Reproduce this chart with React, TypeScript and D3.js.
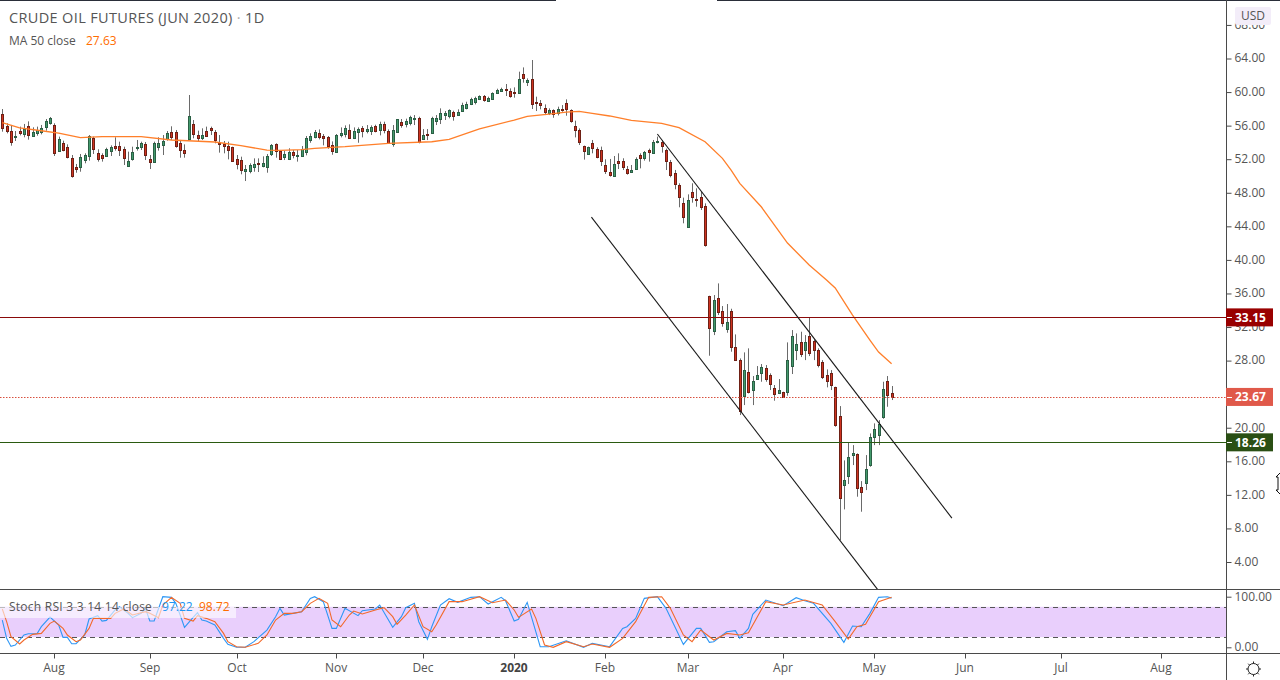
import { useEffect, useRef } from 'react'
import * as d3 from 'd3'

// daily candles, Jun 2020 crude contract
const opens = [
  57.39,55.96,55.36,54.69,55.36,55.00,55.92,54.80,55.08,55.20,
  55.88,56.31,56.04,52.94,53.93,53.41,52.10,51.03,51.03,51.94,
  52.42,54.53,52.70,52.46,52.42,52.94,53.57,53.53,53.18,51.23,
  52.06,53.37,53.49,53.77,51.98,51.71,53.49,53.73,54.37,55.24,
  55.24,53.89,53.06,54.45,56.16,54.84,54.57,55.36,55.68,55.20,
  53.93,53.85,53.57,53.41,51.98,51.87,50.63,50.63,51.07,51.55,
  51.23,51.11,52.66,53.77,52.94,52.30,52.06,52.82,52.42,52.38,
  52.89,54.32,54.68,55.08,54.76,54.60,53.65,52.89,54.88,55.04,
  55.43,54.52,55.28,55.67,55.40,55.40,55.91,55.48,56.15,55.32,
  53.81,55.28,56.39,56.23,56.35,56.86,56.86,54.44,54.96,55.08,
  56.55,56.75,57.30,57.14,57.58,57.30,57.78,58.14,58.53,58.85,
  59.13,59.49,58.97,59.21,59.93,60.16,60.32,60.16,59.96,59.84,
  62.11,61.24,61.51,58.77,58.65,58.06,57.50,57.82,57.54,58.02,
  58.65,57.82,55.91,55.43,53.54,52.66,53.89,53.18,53.06,51.27,
  50.44,50.04,51.75,51.75,50.79,50.44,50.87,52.46,52.14,53.06,
  52.78,54.01,54.01,53.06,51.63,50.32,48.89,46.74,43.96,48.05,
  47.22,47.46,46.38,35.65,31.56,35.41,33.87,31.80,33.87,29.57,
  28.02,23.81,26.59,24.45,25.84,26.55,27.07,26.24,24.69,24.17,
  24.21,24.21,27.31,29.22,30.17,29.22,30.89,30.29,29.22,27.79,
  26.24,26.48,24.81,21.35,13.13,14.20,16.70,16.82,12.89,13.36,
  15.59,18.93,19.09,21.23,25.52,24.09,
]
const closes = [
  55.76,55.40,54.09,54.77,55.16,55.56,54.92,55.24,55.48,55.68,
  56.51,56.87,52.78,54.37,53.14,52.26,50.04,50.87,52.22,52.46,
  54.77,53.18,52.06,52.18,53.22,53.41,53.37,53.14,52.18,51.75,
  52.82,53.41,53.89,52.54,51.71,53.89,53.89,54.13,55.08,54.65,
  53.61,53.14,52.78,57.11,55.04,54.57,54.84,54.80,55.52,54.25,
  53.77,53.61,53.14,51.83,51.47,50.75,50.83,51.27,51.43,51.47,
  51.51,52.34,53.65,52.94,52.06,52.62,52.86,52.54,52.50,53.17,
  54.52,54.72,55.24,54.68,54.56,53.57,53.01,54.84,55.08,55.71,
  54.56,55.36,55.59,55.40,55.59,55.79,55.36,56.15,55.51,53.93,
  55.43,56.75,56.11,56.55,56.98,56.90,54.08,54.84,54.92,56.86,
  56.86,57.46,57.46,57.82,57.18,57.58,58.41,58.61,59.13,59.29,
  59.49,59.09,59.25,59.85,60.28,60.32,60.20,59.49,59.84,61.51,
  61.71,61.39,58.53,58.65,58.41,57.58,57.82,57.34,57.94,57.98,
  57.94,56.51,55.43,54.00,53.02,53.42,53.38,52.30,51.83,50.64,
  50.12,51.39,51.59,51.11,50.32,50.67,51.99,52.18,52.82,52.82,
  54.01,54.13,53.62,51.75,50.16,49.01,47.46,45.15,47.10,47.46,
  47.10,46.27,41.74,31.92,35.18,33.83,32.51,32.55,29.57,28.02,
  21.95,26.83,24.29,25.52,26.24,27.19,25.76,25.16,24.05,24.45,
  23.69,28.02,30.89,29.93,28.74,30.17,28.86,29.22,27.43,26.00,
  25.52,25.04,20.36,11.58,13.72,16.46,16.94,12.77,12.29,15.03,
  18.85,19.80,20.40,24.57,23.93,23.67,
]
const highs = [
  57.98,56.28,56.08,55.36,55.88,56.20,56.51,55.80,55.88,56.08,
  56.79,57.03,56.28,54.69,54.21,53.77,52.50,51.43,52.62,52.70,
  54.88,54.69,53.18,52.70,53.37,53.65,54.61,54.09,53.49,52.90,
  53.49,54.29,54.09,54.05,52.50,54.09,54.61,54.88,55.36,55.92,
  55.48,54.29,53.77,59.65,56.67,55.40,55.68,55.88,55.88,55.48,
  54.88,54.17,54.09,53.49,52.50,52.30,51.31,51.51,52.10,52.10,
  52.34,52.62,53.81,53.89,53.10,53.02,53.30,53.10,53.10,53.57,
  54.76,55.08,55.48,55.55,55.00,54.76,54.12,55.00,55.79,56.03,
  56.15,55.79,55.79,55.95,56.07,56.03,56.11,56.47,56.47,55.55,
  56.07,56.79,56.79,56.83,57.18,57.26,57.06,55.59,55.59,57.06,
  57.26,58.06,57.74,57.94,57.78,57.94,58.73,58.85,59.33,59.45,
  59.61,59.65,59.45,59.97,60.40,60.52,60.96,60.44,60.56,62.43,
  62.94,61.63,63.82,59.45,59.05,58.53,58.06,57.94,58.26,58.45,
  59.13,57.94,56.59,55.67,53.62,53.50,54.29,53.42,53.50,51.99,
  52.03,52.38,52.70,52.11,51.19,51.31,52.22,52.70,52.98,53.26,
  54.29,54.69,54.29,53.26,51.91,50.72,49.13,47.42,47.81,49.13,
  48.53,48.13,46.74,35.73,35.81,37.20,34.50,34.74,34.18,31.12,
  28.26,28.98,29.46,26.16,27.35,27.59,27.47,26.48,25.09,25.80,
  24.29,30.17,31.64,31.24,31.44,31.04,33.15,30.53,29.46,28.06,
  26.95,26.87,24.89,22.58,16.11,18.21,17.93,16.94,13.64,16.74,
  19.32,20.52,20.91,25.48,26.16,24.97,
]
const lows = [
  55.28,55.08,53.61,54.17,54.84,54.61,54.33,54.69,54.80,54.96,
  55.40,56.12,52.38,52.86,52.94,52.10,49.80,50.39,50.51,51.51,
  51.83,52.62,51.71,51.71,52.34,52.38,53.02,52.38,51.31,51.15,
  51.83,53.02,53.10,51.90,50.83,51.71,53.02,52.50,54.21,54.29,
  53.37,52.18,52.18,54.45,54.49,54.17,54.29,54.69,54.88,53.89,
  52.78,52.70,51.98,51.71,50.79,50.20,49.40,50.32,50.51,50.47,
  51.03,50.39,52.38,52.18,51.90,51.90,51.90,52.10,51.71,52.30,
  52.46,53.96,54.48,54.36,53.65,53.25,52.53,52.81,54.60,54.60,
  54.44,54.40,53.96,54.60,55.08,54.88,55.20,54.84,55.08,53.81,
  53.49,55.16,55.75,55.79,56.03,56.07,53.89,54.36,54.28,55.04,
  56.07,56.19,56.67,56.87,56.59,57.22,57.66,57.94,58.45,58.53,
  59.05,58.85,58.85,59.17,59.77,60.08,59.53,59.33,59.33,59.77,
  61.12,60.72,57.98,57.74,57.94,57.26,57.26,56.94,57.22,57.66,
  57.18,56.35,54.60,53.69,51.95,52.66,52.70,52.11,51.19,50.24,
  49.92,50.00,50.83,50.71,50.16,50.40,50.79,50.91,51.83,51.71,
  52.74,53.89,52.78,50.71,49.84,48.41,46.27,44.36,43.88,46.82,
  46.34,45.95,41.58,28.58,31.04,33.43,32.04,31.32,29.06,27.95,
  21.51,22.70,24.09,22.70,25.76,25.48,25.48,24.49,23.22,24.01,
  23.62,23.81,26.40,28.06,28.42,28.06,28.54,28.06,27.19,25.80,
  24.81,24.49,20.12,6.61,10.27,13.29,15.55,11.78,9.99,12.57,
  15.35,17.93,17.93,21.07,22.50,23.30,
]

// MA 50, sampled along the drawn line (bar number, price)
const maBars = [0,4,9,13,18,23,32,39,49,55,61,64,69,72,79,89,99,103,110,118,121,126,130,133,136,140,145,152,156,162,166,168,170,175,181,186,190,192,196,200,202,205]
const maValues = [56.35,55.72,55.39,55.12,54.56,54.68,54.68,54.29,54.05,53.61,53.09,53.06,53.13,53.30,53.49,53.89,54.08,54.37,55.60,56.67,57.11,57.38,57.62,57.71,57.47,57.15,56.63,56.28,55.75,54.08,52.10,50.71,49.12,46.30,42.01,39.39,37.60,36.65,33.43,30.45,29.02,27.63]

// Stoch RSI turning points
const kBars = [0,1,2,3,5,6,8,9,11,13,14,15,16,17,19,20,22,23,24,26,27,29,30,32,33,34,35,37,39,40,41,42,44,45,46,47,49,51,52,54,56,58,61,63,64,65,67,69,71,72,74,76,77,79,82,83,86,87,90,92,93,95,96,98,99,101,103,105,108,110,112,115,116,118,119,121,124,126,130,134,136,140,143,144,146,148,151,153,157,160,161,163,164,167,169,170,172,173,176,180,183,185,187,191,194,196,198,200,202,204,205]
const kValues = [53.9,17.7,1.8,4.5,24.3,26.9,26.9,40.7,59.8,44.0,19.6,19.6,7.1,7.1,24.3,55.9,62.5,51.9,53.2,73.7,80.3,67.1,58.5,67.1,77.0,51.9,51.9,100,98.7,86.9,63.8,39.4,59.2,68.4,53.9,51.9,44.0,17.7,5.8,0,0,11.1,34.1,60.5,77.0,63.8,67.1,70.4,96.7,100,90.2,37.4,37.4,77.0,62.5,72.4,75.7,83.6,39.4,60.5,78.3,86.9,50.6,15.7,40.7,83.6,96,88.8,98.7,100,85.5,98.7,92.1,51.9,55.2,88.8,1.2,1.2,13.0,0,7.8,1.2,37.4,40.7,57.2,96.7,100,77.0,5.8,37.4,37.4,9.8,11.1,30.8,32.8,17.7,37.4,65.1,93.4,82.2,98.1,92.1,86.9,47.3,9.8,42.0,40.7,67.1,98.7,100,97.22]
const dBars = [0,1,2,4,5,7,9,11,12,14,15,17,18,20,21,23,25,26,28,30,33,34,36,37,39,41,42,44,45,47,49,51,52,54,56,59,61,63,65,67,69,71,73,75,76,78,80,81,83,86,88,90,91,93,95,97,99,100,103,106,110,113,116,118,119,122,123,125,127,130,134,136,140,143,146,149,152,154,157,159,161,164,167,170,172,176,180,185,189,192,195,197,199,202,205]
const dValues = [75.7,50.6,21.0,6.5,14.4,25.6,27.5,47.3,51.9,37.4,24.3,11.1,14.4,37.4,57.2,57.2,57.2,67.1,75.7,63.8,70.4,67.1,58.5,83.6,98.7,86.9,57.2,51.9,62.5,57.2,50.6,27.5,11.1,1.2,0,7.8,24.3,53.9,67.1,67.1,70.4,86.9,96.7,86.9,53.9,40.7,63.8,71.7,65.8,73.7,78.3,60.5,45.3,63.8,83.6,40.7,30.8,44.0,90.2,90.2,100,88.2,93.4,73.7,59.2,75.7,57.2,4.5,0,11.1,1.2,6.5,0,17.7,50.6,98.7,100,77.0,24.3,11.1,34.1,14.4,27.5,24.3,28.9,90.2,83.6,93.4,83.6,50.6,16.3,40.7,45.3,90.2,98.72]

const priceTicks = [68,64,60,56,52,48,44,40,36,32,28,24,20,16,12,8,4]
const monthBars = [12,34,54,77,97,118,139,158,180,201,222,244,267]
const monthLabels = ['Aug','Sep','Oct','Nov','Dec','2020','Feb','Mar','Apr','May','Jun','Jul','Aug']
const levels = [
  { value: 33.15, label: '33.15', line: '#8a0a0a', box: '#990000', dash: '' },
  { value: 23.67, label: '23.67', line: '#d8503f', box: '#e0594a', dash: '1.5 1.5' },
  { value: 18.26, label: '18.26', line: '#2a5a10', box: '#2a4f14', dash: '' },
]
// channel lines: bar number, price at each end
const channels = [
  { bars: [151, 218.9], prices: [55.0, 9.23] },
  { bars: [135.8, 201.8], prices: [45.1, 0.71] },
]

const FONT = '"Open Sans", Lato, sans-serif'
const W = 1280
const H = 680
const AXIS_X = 1226.5
const PANE_TOP = 589.5
const PANE_BOTTOM = 653.5

export default function App() {
  const svgRef = useRef<SVGSVGElement>(null)

  useEffect(() => {
    document.body.style.margin = '0'
    if (!svgRef.current) return
    const svg = d3.select(svgRef.current).attr('viewBox', `0 0 ${W} ${H}`).attr('font-family', FONT)
    svg.selectAll('*').remove()

    const x = d3.scaleLinear().domain([0, 205]).range([2.3, 891.6])
    const y = d3.scaleLinear().domain([64, 4]).range([58.5, 562])
    const yStoch = d3.scaleLinear().domain([100, 0]).range([596.7, 647.3])

    const defs = svg.append('defs')
    defs.append('clipPath').attr('id', 'main-clip').append('rect')
      .attr('width', AXIS_X).attr('height', PANE_TOP)
    defs.append('clipPath').attr('id', 'pane-clip').append('rect')
      .attr('y', PANE_TOP).attr('width', AXIS_X).attr('height', PANE_BOTTOM - PANE_TOP)

    svg.append('rect').attr('width', W).attr('height', H).attr('fill', '#ffffff')

    const main = svg.append('g').attr('clip-path', 'url(#main-clip)')

    // candles
    opens.forEach((open, i) => {
      const close = closes[i]
      const up = close >= open
      const cx = Math.round(x(i)) + 0.5
      main.append('line').attr('x1', cx).attr('x2', cx)
        .attr('y1', y(highs[i])).attr('y2', y(lows[i]))
        .attr('stroke', '#6a6a6a').attr('stroke-width', 1)
      const top = Math.round(y(Math.max(open, close)))
      const bottom = Math.round(y(Math.min(open, close)))
      main.append('rect').attr('x', cx - 1).attr('width', 2)
        .attr('y', top + 0.5).attr('height', Math.max(bottom - top, 1))
        .attr('fill', up ? '#439a6c' : '#cf3320')
        .attr('stroke', up ? '#2b5f45' : '#6e2015').attr('stroke-width', 1)
    })

    // MA 50
    const maLine = d3.line<number>().x((d) => x(d)).y((_, i) => y(maValues[i]))
    main.append('path').datum(maBars).attr('fill', 'none')
      .attr('stroke', '#ff7f2a').attr('stroke-width', 1.3).attr('d', maLine)

    // horizontal levels
    levels.forEach((l) => {
      const ly = Math.round(y(l.value)) + 0.5
      main.append('line').attr('x1', 0).attr('x2', AXIS_X).attr('y1', ly).attr('y2', ly)
        .attr('stroke', l.line).attr('stroke-width', 1)
        .attr('stroke-dasharray', l.dash || null)
    })

    // channel
    channels.forEach((c) => {
      main.append('line')
        .attr('x1', x(c.bars[0])).attr('y1', y(c.prices[0]))
        .attr('x2', x(c.bars[1])).attr('y2', y(c.prices[1]))
        .attr('stroke', '#1a1a1a').attr('stroke-width', 1.1)
    })

    // Stoch RSI pane
    const pane = svg.append('g').attr('clip-path', 'url(#pane-clip)')
    pane.append('rect').attr('x', 0).attr('width', AXIS_X)
      .attr('y', yStoch(80)).attr('height', yStoch(20) - yStoch(80))
      .attr('fill', '#e9cffc')
    ;[80, 20].forEach((v) => {
      const ly = Math.round(yStoch(v)) + 0.5
      pane.append('line').attr('x1', 0).attr('x2', AXIS_X).attr('y1', ly).attr('y2', ly)
        .attr('stroke', '#555').attr('stroke-dasharray', '5 4')
    })
    const kLine = d3.line<number>().x((d) => x(d)).y((_, i) => yStoch(kValues[i]))
    const dLine = d3.line<number>().x((d) => x(d)).y((_, i) => yStoch(dValues[i]))
    pane.append('path').datum(kBars).attr('fill', 'none')
      .attr('stroke', '#2e97f5').attr('stroke-width', 1.1).attr('d', kLine)
    pane.append('path').datum(dBars).attr('fill', 'none')
      .attr('stroke', '#f2692a').attr('stroke-width', 1.1).attr('d', dLine)

    // frame
    const frame = '#4a4a4a'
    svg.append('line').attr('x1', 0).attr('x2', 556).attr('y1', 0.5).attr('y2', 0.5).attr('stroke', '#2a2e39')
    svg.append('line').attr('x1', 717).attr('x2', W).attr('y1', 0.5).attr('y2', 0.5).attr('stroke', '#2a2e39')
    svg.append('line').attr('x1', 0).attr('x2', W).attr('y1', PANE_TOP).attr('y2', PANE_TOP).attr('stroke', frame)
    svg.append('line').attr('x1', 0).attr('x2', W).attr('y1', PANE_BOTTOM).attr('y2', PANE_BOTTOM).attr('stroke', frame)
    svg.append('line').attr('x1', AXIS_X).attr('x2', AXIS_X).attr('y1', 0).attr('y2', H).attr('stroke', frame)

    const styleAxis = (ax: d3.Selection<SVGGElement, unknown, null, undefined>) => {
      ax.select('.domain').remove()
      ax.selectAll('line').attr('stroke', '#4a4a4a')
      ax.selectAll('text').attr('fill', '#555').attr('font-size', 12).attr('font-family', FONT).attr('dy', '0.28em')
    }

    // price axis
    svg.append('g').attr('transform', `translate(${AXIS_X},0)`)
      .call(d3.axisRight(y).tickValues(priceTicks).tickFormat((d) => (d as number).toFixed(2)).tickSize(5).tickPadding(3))
      .call(styleAxis)
    // stoch axis
    svg.append('g').attr('transform', `translate(${AXIS_X},0)`)
      .call(d3.axisRight(yStoch).tickValues([100, 0]).tickFormat((d) => (d as number).toFixed(2)).tickSize(5).tickPadding(3))
      .call(styleAxis)
    // time axis
    const timeAxis = svg.append('g').attr('transform', `translate(0,${PANE_BOTTOM})`)
    monthBars.forEach((b, i) => {
      const tx = Math.round(x(b)) + 0.5
      timeAxis.append('line').attr('x1', tx).attr('x2', tx).attr('y1', 0).attr('y2', 5).attr('stroke', '#4a4a4a')
      timeAxis.append('text').attr('x', tx - 0.5).attr('y', 18.5).attr('text-anchor', 'middle')
        .attr('fill', monthLabels[i] === '2020' ? '#444' : '#555')
        .attr('font-size', 12).attr('font-weight', monthLabels[i] === '2020' ? 700 : 400)
        .text(monthLabels[i])
    })

    // currency badge
    svg.append('rect').attr('x', 1235).attr('y', 7).attr('width', 36).attr('height', 18).attr('rx', 2).attr('fill', '#f3edf9')
    svg.append('text').attr('x', 1253).attr('y', 20).attr('text-anchor', 'middle')
      .attr('fill', '#555').attr('font-size', 12).text('USD')

    // level tags
    levels.forEach((l) => {
      const ly = y(l.value)
      svg.append('rect').attr('x', 1226).attr('y', ly - 9).attr('width', 47).attr('height', 18).attr('fill', l.box)
      svg.append('line').attr('x1', 1227).attr('x2', 1232).attr('y1', Math.round(ly) + 0.5).attr('y2', Math.round(ly) + 0.5).attr('stroke', '#fff')
      svg.append('text').attr('x', 1235).attr('y', ly + 4.5)
        .attr('fill', '#fff').attr('font-size', 12).attr('font-weight', 700).text(l.label)
    })

    // legends
    const title = svg.append('text').attr('x', 9).attr('y', 23).attr('fill', '#555')
      .attr('font-size', 14.5).attr('letter-spacing', 0.35)
    title.append('tspan').text('CRUDE OIL FUTURES (JUN 2020) ')
    title.append('tspan').attr('fill', '#aaa').text('· ')
    title.append('tspan').text('1D')
    svg.append('text').attr('x', 9).attr('y', 45).attr('fill', '#555').attr('font-size', 12)
      .text('MA 50 close')
    svg.append('text').attr('x', 86).attr('y', 45).attr('fill', '#ff6d00').attr('font-size', 12)
      .text('27.63')

    svg.append('rect').attr('x', 0).attr('y', 607).attr('width', 236).attr('height', 11)
      .attr('fill', '#ffffff').attr('opacity', 0.6)
    svg.append('text').attr('x', 9).attr('y', 611).attr('fill', '#555').attr('font-size', 12)
      .attr('letter-spacing', 0.25).text('Stoch RSI 3 3 14 14 close')
    svg.append('text').attr('x', 162).attr('y', 611).attr('fill', '#2196f3').attr('font-size', 12).text('97.22')
    svg.append('text').attr('x', 199).attr('y', 611).attr('fill', '#ff6d00').attr('font-size', 12).text('98.72')

    // settings gear
    const gear = svg.append('g').attr('transform', 'translate(1253.5,669)')
    d3.range(8).forEach((k) => {
      const a = (k * Math.PI) / 4
      gear.append('line').attr('x1', 5 * Math.cos(a)).attr('y1', 5 * Math.sin(a))
        .attr('x2', 7.5 * Math.cos(a)).attr('y2', 7.5 * Math.sin(a)).attr('stroke', '#222')
    })
    gear.append('circle').attr('r', 5.5).attr('fill', '#fff').attr('stroke', '#222')

    // mouse cursor at the chart edge
    svg.append('path').attr('d', 'M1281 472 L1276 477 L1278 477 L1278 490 L1276 490 L1281 495 Z')
      .attr('fill', '#fff').attr('stroke', '#111').attr('stroke-width', 1)

    return () => { svg.selectAll('*').remove() }
  }, [])

  return <svg ref={svgRef} width={W} height={H} style={{ display: 'block' }} />
}
